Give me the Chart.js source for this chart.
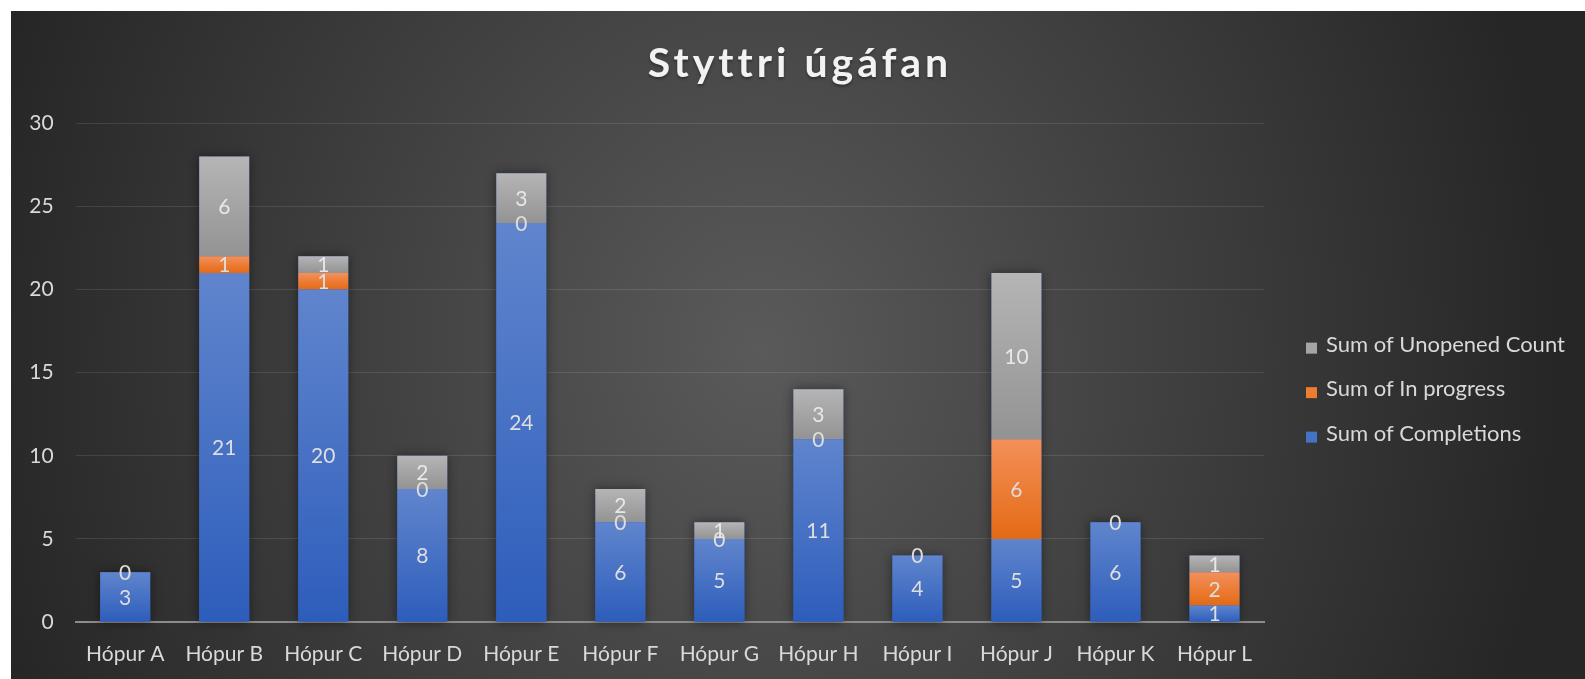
<!DOCTYPE html>
<html>
<head>
<meta charset="utf-8">
<script src="https://cdn.jsdelivr.net/npm/chart.js@4.4.1/dist/chart.umd.min.js"></script>
<style>
body{margin:0;background:#fff;}
#wrap{
position:absolute;left:11px;top:11px;width:1574px;height:668px;
background:radial-gradient(ellipse 800px 900px at 750px 340px,#5a5a5a 0%,#262626 100%);
}
</style>
</head>
<body>
<div id="wrap"><canvas id="grafico"></canvas></div>
<script>
const hopar = ["Hópur A","Hópur B","Hópur C","Hópur D","Hópur E","Hópur F","Hópur G","Hópur H","Hópur I","Hópur J","Hópur K","Hópur L"];
const completions = [3,21,20,8,24,6,5,11,4,5,6,1];
const inProgress = [0,1,1,0,0,0,0,0,0,6,0,2];
const unopened = [null,6,1,2,3,2,1,3,null,10,null,1];
const yTicks = [0,5,10,15,20,25,30];
const titill = "Styttri úgáfan";

const FONT = "Lato";
const TEXT = "#d9d9d9";

// gradient for each stacked segment, from the y scale
function litur(topp, botn){
return (c) => {
const chart = c.chart;
const y = chart.scales.y;
if(!y || !chart.chartArea) return botn;
let start = 0;
for(let i=0;i<c.datasetIndex;i++){
start += chart.data.datasets[i].data[c.dataIndex] || 0;
}
const v = c.raw || 0;
const y0 = y.getPixelForValue(start);
const y1 = y.getPixelForValue(start+v);
if(y0 === y1) return botn;
const g = chart.ctx.createLinearGradient(0,y1,0,y0);
g.addColorStop(0,topp);
g.addColorStop(1,botn);
return g;
};
}

/* titill yfir miðju myndarinnar */
const fyrirsogn = {
id:"fyrirsogn",
afterDraw(chart){
const ctx = chart.ctx;
ctx.save();
ctx.font = "bold 41px " + FONT;
ctx.letterSpacing = "4px";
ctx.textAlign = "center";
ctx.textBaseline = "middle";
ctx.shadowColor = "rgba(0,0,0,0.35)";
ctx.shadowBlur = 3;
ctx.shadowOffsetY = 1.5;
ctx.fillStyle = "#f2f2f2";
ctx.fillText(titill, chart.width/2 + 2, 53);
ctx.restore();
}
};

/* skuggi undir hverri súlu */
const skuggi = {
id:"skuggi",
beforeDatasetsDraw(chart){
const ctx = chart.ctx;
const metas = chart.data.datasets.map((d,i) => chart.getDatasetMeta(i));
ctx.save();
ctx.shadowColor = "rgba(0,0,0,0.45)";
ctx.shadowBlur = 10;
ctx.fillStyle = "#2f5fbd";
hopar.forEach((h,idx) => {
const el = metas[0].data[idx];
let top = el.y;
metas.forEach(m => { const e = m.data[idx]; if(e && !isNaN(e.y)) top = Math.min(top,e.y); });
ctx.fillRect(el.x-el.width/2, top, el.width, el.base-top);
});
ctx.restore();
}
};

/* gildi inni í súlunum */
const gildi = {
id:"gildi",
afterDatasetsDraw(chart){
const ctx = chart.ctx;
ctx.save();
ctx.font = "21px " + FONT;
ctx.textAlign = "center";
ctx.textBaseline = "middle";
chart.data.datasets.forEach((d,i) => {
const meta = chart.getDatasetMeta(i);
meta.data.forEach((el,idx) => {
const v = d.data[idx];
if(v === null || v === undefined) return;
ctx.fillStyle = i === 2 ? "#e8e8e8" : "#dedede";
ctx.fillText(String(v), el.x, (el.y+el.base)/2 + 1);
});
});
ctx.restore();
}
};

/* skýringar til hægri */
const skyring = {
id:"skyring",
afterDraw(chart){
const ctx = chart.ctx;
const x = chart.chartArea.right + 42;
const midja = (chart.chartArea.top + chart.chartArea.bottom)/2;
ctx.save();
ctx.font = "22px " + FONT;
ctx.textBaseline = "middle";
const rod = [2,1,0];
rod.forEach((di,n) => {
const d = chart.data.datasets[di];
const cy = midja - 28 + n*44.5;
ctx.fillStyle = d.legendColor;
ctx.fillRect(x, cy-2, 11, 11);
ctx.fillStyle = TEXT;
ctx.fillText(d.label, x+20, cy);
});
ctx.restore();
}
};

const ctx = document.getElementById("grafico");

new Chart(ctx, {
type:"bar",
data:{
labels:hopar,
datasets:[
{label:"Sum of Completions", data:completions, backgroundColor:litur("#6085cd","#2d5dbb"), legendColor:"#4472c4"},
{label:"Sum of In progress", data:inProgress, backgroundColor:litur("#f3905a","#e46a14"), legendColor:"#ed7d31"},
{label:"Sum of Unopened Count", data:unopened, backgroundColor:litur("#b5b5b5","#939393"), legendColor:"#a5a5a5"}
]
},
options:{
responsive:true,
maintainAspectRatio:false,
animation:false,
layout:{padding:{left:0,right:321,top:112.3,bottom:0}},
datasets:{bar:{categoryPercentage:1, barPercentage:0.505}},
plugins:{
legend:{display:false},
tooltip:{enabled:false},
title:{display:false}
},
scales:{
x:{
stacked:true,
grid:{display:false},
border:{color:"#8c8c8c", width:2},
ticks:{color:TEXT, font:{family:FONT, size:21}, padding:12},
afterFit(s){ s.height = 57; }
},
y:{
stacked:true,
min:0,
max:30,
afterBuildTicks(s){ s.ticks = yTicks.map(v => ({value:v})); },
grid:{color:"rgba(255,255,255,0.11)", drawTicks:false},
border:{display:false},
ticks:{color:TEXT, font:{family:FONT, size:21}, padding:22},
afterFit(s){ s.width = 64.7; }
}
}
},
plugins:[skuggi, gildi, skyring, fyrirsogn]
});
</script>
</body>
</html>
